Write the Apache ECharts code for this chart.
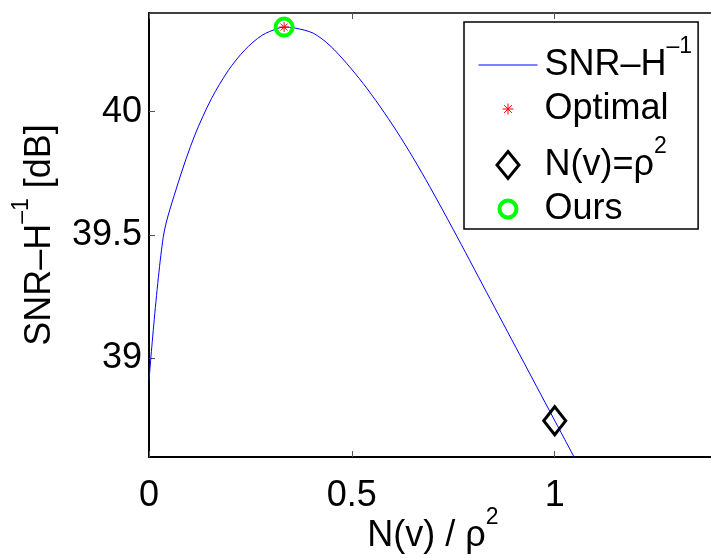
<!DOCTYPE html>
<html>
<head>
<meta charset="utf-8">
<script src="https://cdn.jsdelivr.net/npm/echarts@6/dist/echarts.min.js"></script>
<style>
  html, body { margin: 0; padding: 0; background: #fff; }
  #chart { width: 711px; height: 559px; }
</style>
</head>
<body>
<div id="chart"></div>
<script>
// curve
var snrX = [0, 0.035, 0.072, 0.113, 0.154, 0.195, 0.236, 0.278, 0.318, 0.333, 0.36, 0.405, 0.446, 0.487, 0.528, 0.569, 0.61, 0.651, 0.692, 0.75, 0.832, 0.914, 0.996, 1.05];
var snrY = [38.91, 39.49, 39.712, 39.905, 40.053, 40.166, 40.25, 40.309, 40.338, 40.343, 40.339, 40.318, 40.268, 40.196, 40.114, 40.022, 39.922, 39.813, 39.696, 39.522, 39.268, 39.014, 38.76, 38.593];

var optimalPt = [0.333, 40.343];
var rhoPt = [1, 38.747];
var oursPt = [0.333, 40.343];

var xTicks = [0, 0.5, 1];
var yTicks = [39, 39.5, 40];

var FONT = 'Liberation Sans, Arial, sans-serif';

var snrData = snrX.map(function (x, i) { return [x, snrY[i]]; });

// rich text for superscripts
var rich = {
  b: { fontFamily: FONT, fontSize: 36, color: '#000', lineHeight: 60 },
  s: { fontFamily: FONT, fontSize: 23, color: '#000', verticalAlign: 'top' }
};

var legendText = {
  snr: '{b|SNR–H}{s|–1}',
  opt: '{b|Optimal}',
  rho: '{b|N(v)=ρ}{s|2}',
  ours: '{b|Ours}'
};

// legend icons, all in a 61x28 box
var iconLine = 'path://M0,0M61,28M0,14L59,14';
var iconStar = 'path://M0,0M61,28M29.5,8.5L29.5,19.5M24,14L35,14M25.6,10.1L33.4,17.9M25.6,17.9L33.4,10.1';
var iconDiamond = 'path://M0,0M61,28M29.5,0.5L40.5,14L29.5,27.5L18.5,14Z';
var iconCircle = 'path://M0,0M61,28M21,14A8.5,8.5,0,1,1,38,14A8.5,8.5,0,1,1,21,14Z';

var chart = echarts.init(document.getElementById('chart'));

var option = {
  backgroundColor: '#fff',
  animation: false,
  grid: { left: 149, top: 13, right: -6, bottom: 102, outerBoundsMode: 'none' },
  legend: {
    orient: 'vertical',
    left: 464,
    top: 22,
    padding: [13, 6, 2, 12],
    itemGap: 8,
    itemWidth: 61,
    itemHeight: 28,
    selectedMode: false,
    backgroundColor: '#fff',
    borderColor: '#000',
    borderWidth: 1.5,
    borderRadius: 0,
    textStyle: { fontFamily: FONT, fontSize: 36, color: '#000', rich: rich },
    formatter: function (name) { return legendText[name]; },
    data: [
      { name: 'snr', icon: iconLine, itemStyle: { color: 'none', borderColor: '#0000ff', borderWidth: 1, opacity: 1 } },
      { name: 'opt', icon: iconStar, itemStyle: { color: 'none', borderColor: '#ff0000', borderWidth: 1, opacity: 1 } },
      { name: 'rho', icon: iconDiamond, itemStyle: { color: 'none', borderColor: '#000', borderWidth: 3, opacity: 1 } },
      { name: 'ours', icon: iconCircle, itemStyle: { color: 'none', borderColor: '#00ff00', borderWidth: 4, opacity: 1 } }
    ]
  },
  xAxis: [{
    type: 'value',
    min: 0,
    max: 1.4,
    name: '{b|N(v) / ρ}{s|2}',
    nameLocation: 'middle',
    nameGap: 49,
    nameMoveOverlap: false,
    nameTextStyle: { rich: rich },
    axisLine: { lineStyle: { color: '#000', width: 2 } },
    axisTick: { inside: true, length: 6, customValues: xTicks, lineStyle: { color: '#555', width: 1 } },
    axisLabel: { customValues: xTicks, margin: 21, fontFamily: FONT, fontSize: 36, color: '#000' },
    splitLine: { show: false }
  }, {
    type: 'value',
    position: 'top',
    min: 0,
    max: 1.4,
    axisLine: { lineStyle: { color: '#000', width: 1.5 } },
    axisTick: { inside: true, length: 6, customValues: xTicks, lineStyle: { color: '#555', width: 1 } },
    axisLabel: { show: false },
    splitLine: { show: false }
  }],
  yAxis: {
    type: 'value',
    min: 38.6,
    max: 40.4,
    name: '{b|SNR–H}{s|–1}{b| [dB]}',
    nameLocation: 'middle',
    nameRotate: 90,
    nameGap: 79,
    nameMoveOverlap: false,
    nameTextStyle: { rich: rich },
    axisLine: { show: true, lineStyle: { color: '#000', width: 2 } },
    axisTick: { show: true, inside: true, length: 6, customValues: yTicks, lineStyle: { color: '#555', width: 1 } },
    axisLabel: { customValues: yTicks, margin: 7, fontFamily: FONT, fontSize: 36, color: '#000' },
    splitLine: { show: false }
  },
  series: [{
    name: 'snr',
    type: 'line',
    data: snrData,
    showSymbol: false,
    smooth: 0.3,
    lineStyle: { color: '#0000ff', width: 1 },
    itemStyle: { color: '#0000ff' },
    z: 2
  }, {
    name: 'opt',
    type: 'scatter',
    data: [optimalPt],
    symbol: 'path://M5,0L5,10M0,5L10,5M1.5,1.5L8.5,8.5M1.5,8.5L8.5,1.5',
    symbolSize: 10,
    itemStyle: { color: 'none', borderColor: '#ff0000', borderWidth: 1, opacity: 1 },
    z: 5
  }, {
    name: 'rho',
    type: 'scatter',
    data: [rhoPt],
    symbol: 'diamond',
    symbolSize: [22, 28],
    itemStyle: { color: 'none', borderColor: '#000', borderWidth: 3, opacity: 1 },
    z: 4
  }, {
    name: 'ours',
    type: 'scatter',
    data: [oursPt],
    symbol: 'circle',
    symbolSize: 17,
    itemStyle: { color: 'none', borderColor: '#00ff00', borderWidth: 4, opacity: 1 },
    z: 3
  }]
};

chart.setOption(option);
</script>
</body>
</html>
